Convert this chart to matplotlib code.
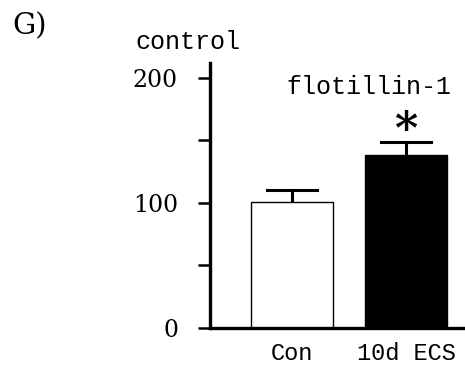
import matplotlib.pyplot as plt

plt.rcParams['font.family'] = ['DejaVu Serif', 'DejaVu Sans']
word_font = ['Liberation Mono', 'DejaVu Sans Mono']

groups = ["Con", "10d ECS"]
means = [101, 138]
errs = [9, 11]
colors = ["white", "black"]
yticks = [0, 50, 100, 150, 200]
ytick_labels = ["0", "", "100", "", "200"]

fig = plt.figure(figsize=(4.65, 3.71), dpi=100)
ax = fig.add_axes([0.4516, 0.1159, 0.5484, 0.7143])

x = range(len(groups))
ax.bar(x, means, width=0.72, color=colors, edgecolor="black", linewidth=1.0, zorder=2)
for xi, m, e in zip(x, means, errs):
    ax.plot([xi, xi], [m, m + e], color="black", lw=2.2, zorder=1)
    ax.plot([xi - 0.22, xi + 0.22], [m + e, m + e], color="black", lw=2.2, zorder=1)

ax.set_xlim(-0.719, 1.518)
ax.set_ylim(0, 212)
ax.spines["top"].set_visible(False)
ax.spines["right"].set_visible(False)
ax.spines["left"].set_linewidth(2.4)
ax.spines["bottom"].set_linewidth(2.4)

ax.set_yticks(yticks)
ax.set_yticklabels(ytick_labels, fontsize=17)
ax.tick_params(axis="y", length=9, width=1.8, pad=14)
ax.set_xticks(list(x))
ax.set_xticklabels(groups, fontsize=17, family=word_font)
ax.tick_params(axis="x", length=0, pad=10)

ax.text(-0.053, 193, "flotillin-1", fontsize=18, ha="left", va="center",
        family=word_font)
ax.text(1.0, 157, "*", fontsize=32, ha="center", va="center", fontweight="bold")
fig.text(135 / 465, 1 - 42 / 371, "control", fontsize=18, ha="left", va="center",
         family=word_font)
fig.text(12 / 465, 1 - 26 / 371, "G)", fontsize=21, ha="left", va="center")

fig.savefig("out.png", dpi=100)
